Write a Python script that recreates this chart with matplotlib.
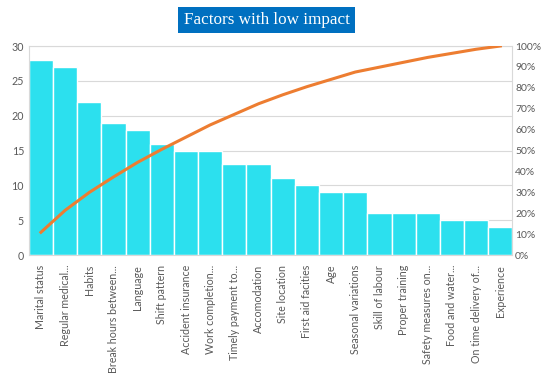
import matplotlib.pyplot as plt
import numpy as np

# factor names and counts
factors = ['Marital status', 'Regular medical...', 'Habits', 'Break hours between...',
           'Language', 'Shift pattern', 'Accident insurance', 'Work completion...',
           'Timely payment to...', 'Accomodation', 'Site location', 'First aid facities',
           'Age', 'Seasonal variations', 'Skill of labour', 'Proper training',
           'Safety measures on...', 'Food and water...', 'On time delivery of...', 'Experience']
counts = [28, 27, 22, 19, 18, 16, 15, 15, 13, 13, 11, 10, 9, 9, 6, 6, 6, 5, 5, 4]

cum_pct = np.cumsum(counts) / np.sum(counts) * 100

plt.rcParams['font.family'] = ['Lato', 'DejaVu Sans']
grey = '#595959'

fig = plt.figure(figsize=(5.44, 3.74), dpi=100)
ax = fig.add_axes([0.053, 0.318, 0.889, 0.559])
x = np.arange(len(factors))

ax.bar(x, counts, width=1.0, color='#2CE0EE', edgecolor='white', linewidth=1, zorder=2)
ax.set_xlim(-0.5, len(factors) - 0.5)
ax.set_ylim(0, 30)
ax.set_yticks(range(0, 31, 5))
ax.grid(axis='y', color='#D9D9D9', linewidth=0.8, zorder=0)
ax.set_axisbelow(True)
ax.set_xticks(x)
ax.set_xticklabels(factors, rotation=90, fontsize=7.7, color=grey)
ax.tick_params(axis='both', length=0, labelsize=7.7, colors=grey)
ax.tick_params(axis='x', pad=7)
for s in ax.spines.values():
    s.set_color('#D9D9D9')
    s.set_linewidth(0.8)

ax2 = ax.twinx()
ax2.plot(x, cum_pct, color='#ED7D31', linewidth=2.2, zorder=3)
ax2.set_ylim(0, 100)
ax2.set_yticks(range(0, 101, 10))
ax2.set_yticklabels([f'{v}%' for v in range(0, 101, 10)])
ax2.tick_params(axis='y', length=0, labelsize=7.5, colors=grey, pad=2)
for s in ax2.spines.values():
    s.set_visible(False)

fig.text(0.49, 0.946, 'Factors with low impact', ha='center', va='center',
         fontsize=12.3, family='Liberation Serif', color='white',
         bbox=dict(boxstyle='square,pad=0.3', facecolor='#0070C0', edgecolor='none'))

plt.savefig('out.png', dpi=100)
